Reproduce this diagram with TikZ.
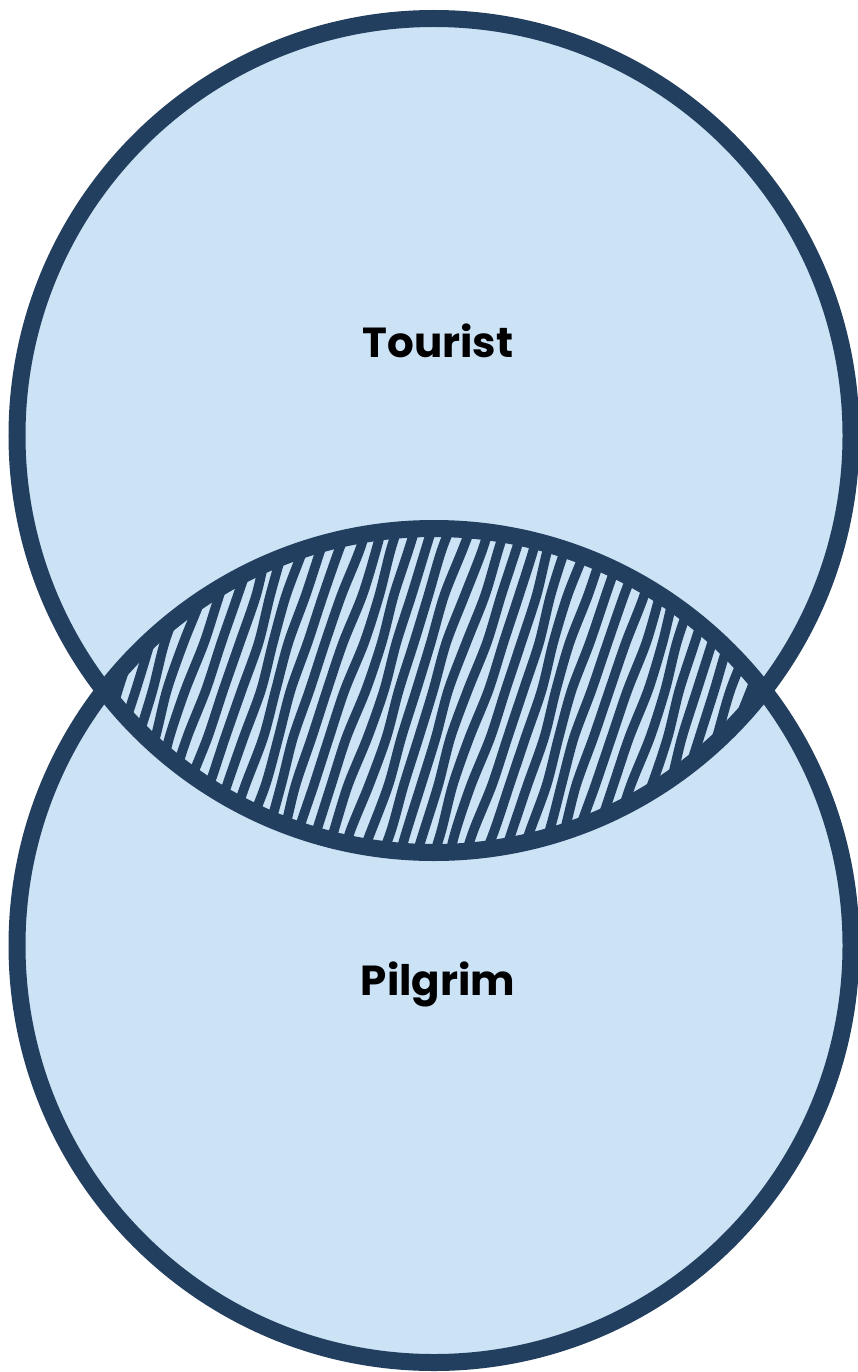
\documentclass[tikz,border=0pt]{standalone}
\usepackage{fontspec}
\setmainfont{Poppins}
\definecolor{fillblue}{HTML}{CCE3F6}
\definecolor{navy}{HTML}{233F5F}
\tikzset{
  venn/.style={circle, minimum size=834pt, inner sep=0pt, outer sep=0pt},
  vennfill/.style={venn, fill=fillblue},
  vennline/.style={venn, draw=navy, line width=17pt},
  label/.style={font=\bfseries\fontsize{42}{50}\selectfont, text=black, anchor=base, inner sep=0pt},
  stripe/.style={draw=navy, line width=9.5pt}
}
\begin{document}
\begin{tikzpicture}[x=1pt,y=1pt]
\useasboundingbox[fill=white] (0,0) rectangle (857,-1372);
\coordinate (tc) at (434,-435.5);
\coordinate (bc) at (434,-945.5);
\node[vennfill] (topfill) at (tc) {};
\node[vennfill] (botfill) at (bc) {};
\begin{scope}
  \clip (tc) circle (417);
  \clip (bc) circle (417);
  \foreach \i in {-26,...,26} {
    \draw[stripe] plot[smooth, variable=\t, domain=0:1, samples=9]
      ({434+\i*17.6-62+\t*124+2.2*sin(\t*470+\i*47)+1.3*sin(\t*970+\i*113)}, {-880+\t*380});
  }
\end{scope}
\node[vennline] (top) at (tc) {};
\node[vennline] (bot) at (bc) {};
\node[label] (tourist) at (438,-357) {Tourist};
\node[label] (pilgrim) at (438,-995) {Pilgrim};
\end{tikzpicture}
\end{document}
